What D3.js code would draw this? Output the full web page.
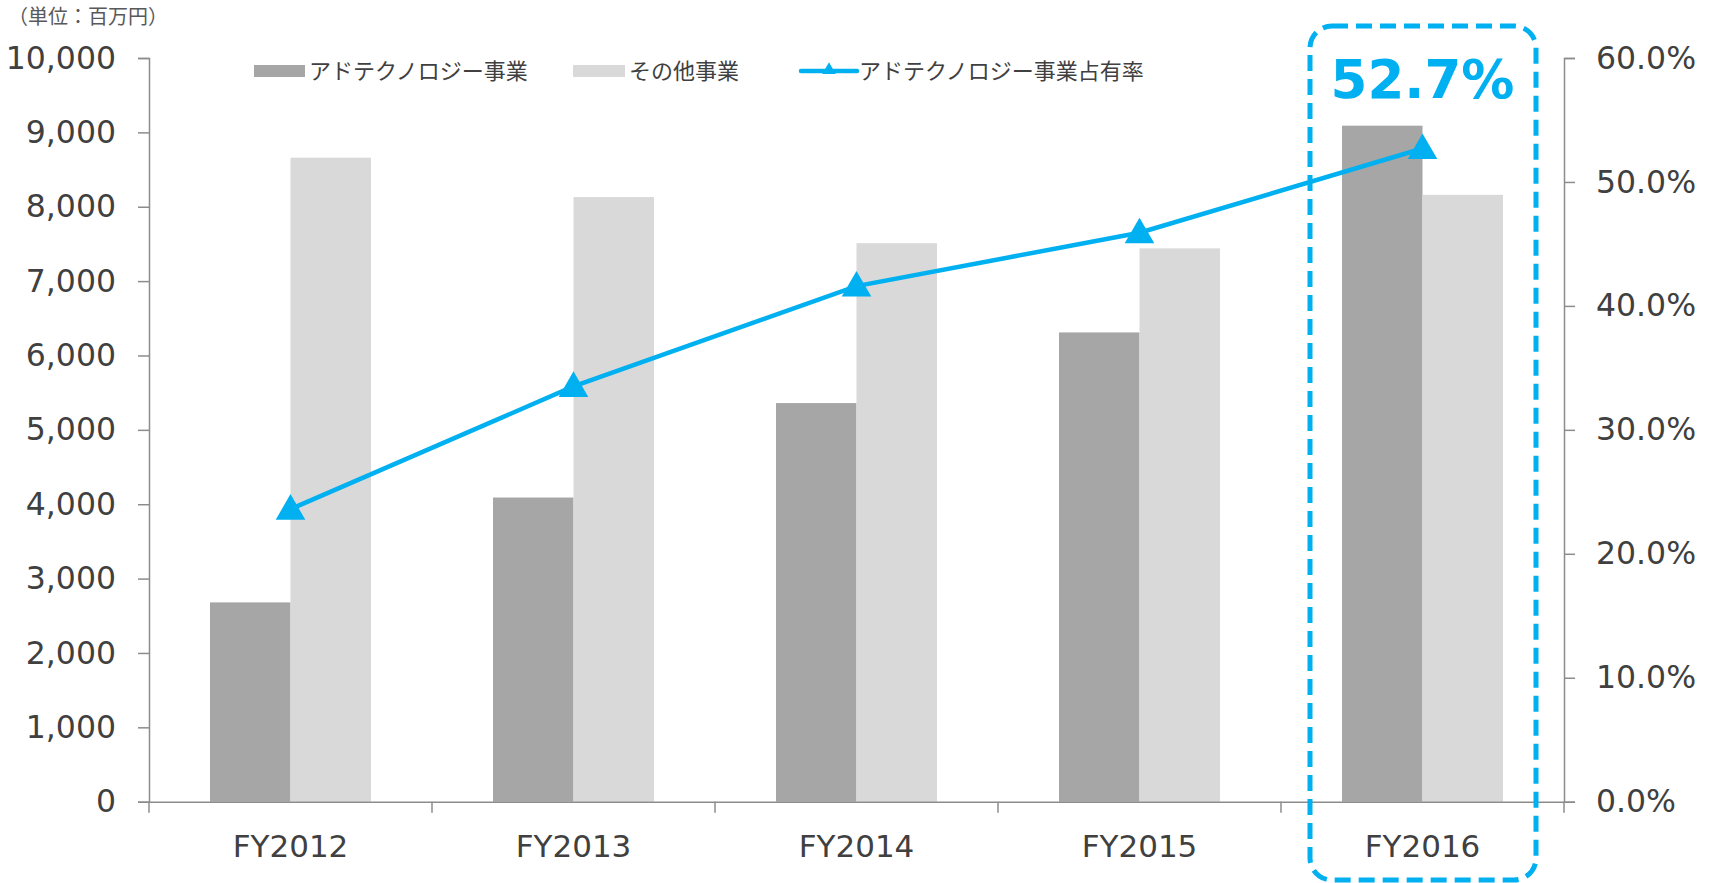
<!DOCTYPE html>
<html>
<head>
<meta charset="utf-8">
<script src="https://cdn.jsdelivr.net/npm/d3@7"></script>
<style>
  body { margin: 0; background: #fff; }
  svg { display: block; }
</style>
</head>
<body>
<div id="chart"></div>
<script>
// data
var years = ["FY2012", "FY2013", "FY2014", "FY2015", "FY2016"];
var adtech = [2680, 4090, 5360, 6310, 9090];
var other = [8660, 8130, 7510, 7440, 8160];
var share = [23.6, 33.5, 41.6, 45.9, 52.7];
var leftTicks = [0, 1000, 2000, 3000, 4000, 5000, 6000, 7000, 8000, 9000, 10000];
var rightTicks = [0, 10, 20, 30, 40, 50, 60];
var seriesNames = ["アドテクノロジー事業", "その他事業", "アドテクノロジー事業占有率"];

var width = 1717, height = 883;
var margin = {top: 58, right: 153, bottom: 81.3, left: 149};
var numFont = "'DejaVu Sans', Verdana, sans-serif";
var jpFont = "'Noto Sans CJK JP', sans-serif";
var blue = "#00B0F0";
var axisColor = "#8c8c8c";
var textColor = "#404040";

var svg = d3.select("#chart").append("svg")
  .attr("width", width)
  .attr("height", height);

var x0 = d3.scaleBand()
  .domain(years)
  .range([margin.left, width - margin.right])
  .padding(0);

var x1 = d3.scaleBand()
  .domain(["adtech", "other"])
  .range([0, x0.bandwidth()])
  .paddingInner(0)
  .paddingOuter(0.758);

var y = d3.scaleLinear()
  .domain([0, 10000])
  .range([height - margin.bottom, margin.top]);

var y2 = d3.scaleLinear()
  .domain([0, 60])
  .range([height - margin.bottom, margin.top]);

// bars
var rows = years.map(function(d, i) {
  return {year: d, adtech: adtech[i], other: other[i]};
});

var groups = svg.append("g").selectAll("g")
  .data(rows)
  .join("g")
  .attr("transform", d => `translate(${x0(d.year)},0)`);

groups.append("rect")
  .attr("x", x1("adtech"))
  .attr("y", d => y(d.adtech))
  .attr("width", x1.bandwidth())
  .attr("height", d => y(0) - y(d.adtech))
  .attr("fill", "#A6A6A6");

groups.append("rect")
  .attr("x", x1("other"))
  .attr("y", d => y(d.other))
  .attr("width", x1.bandwidth())
  .attr("height", d => y(0) - y(d.other))
  .attr("fill", "#D9D9D9");

// axes
function styleAxis(g) {
  g.selectAll(".domain").attr("stroke", axisColor).attr("stroke-width", 1.5);
  g.selectAll(".tick line").attr("stroke", axisColor).attr("stroke-width", 1.5);
  g.selectAll("text").attr("fill", textColor);
}

svg.append("g")
  .attr("transform", `translate(${margin.left},0)`)
  .call(d3.axisLeft(y).tickValues(leftTicks).tickSize(11).tickPadding(22)
    .tickFormat(d3.format(",")))
  .attr("font-family", numFont)
  .attr("font-size", "31.5px")
  .call(styleAxis);

svg.append("g")
  .attr("transform", `translate(${width - margin.right},0)`)
  .call(d3.axisRight(y2).tickValues(rightTicks).tickSize(11).tickPadding(21)
    .tickFormat(d => d.toFixed(1) + "%"))
  .attr("font-family", numFont)
  .attr("font-size", "31.5px")
  .call(styleAxis);

var xAxis = svg.append("g")
  .attr("transform", `translate(0,${y(0)})`)
  .call(d3.axisBottom(x0).tickSize(0).tickPadding(33))
  .attr("font-family", numFont)
  .attr("font-size", "31px")
  .call(styleAxis);

// category boundary ticks
var bounds = years.map(d => x0(d)).concat([x0.range()[1]]);
xAxis.selectAll(".bound")
  .data(bounds)
  .join("line")
  .attr("class", "bound")
  .attr("x1", d => d).attr("x2", d => d)
  .attr("y1", 0).attr("y2", 11)
  .attr("stroke", axisColor)
  .attr("stroke-width", 1.5);

// share line
var cx = d => x0(d) + x0.bandwidth() / 2;
var pts = years.map((d, i) => [cx(d), y2(share[i])]);

svg.append("path")
  .attr("d", d3.line()(pts))
  .attr("fill", "none")
  .attr("stroke", blue)
  .attr("stroke-width", 4.5);

svg.append("g").selectAll("path")
  .data(pts)
  .join("path")
  .attr("transform", d => `translate(${d[0]},${d[1] + 2})`)
  .attr("d", d3.symbol().type(d3.symbolTriangle).size(380))
  .attr("fill", blue);

// highlight box on the last year
var last = years[years.length - 1];
var bx = x0(last) + 29, bw = x0.bandwidth() - 57;
svg.append("rect")
  .attr("x", bx).attr("y", 26)
  .attr("width", bw).attr("height", 854)
  .attr("rx", 22).attr("ry", 22)
  .attr("fill", "none")
  .attr("stroke", blue)
  .attr("stroke-width", 5)
  .attr("stroke-dasharray", "16,8");

svg.append("text")
  .attr("x", cx(last))
  .attr("y", 98)
  .attr("text-anchor", "middle")
  .attr("font-family", numFont)
  .attr("font-weight", "bold")
  .attr("font-size", "53px")
  .attr("fill", blue)
  .text(share[share.length - 1].toFixed(1) + "%");

// unit label
svg.append("text")
  .attr("x", 8)
  .attr("y", 24)
  .attr("font-family", jpFont)
  .attr("font-size", "20px")
  .attr("fill", "#595959")
  .text("（単位：百万円）");

// legend
var legend = svg.append("g").attr("font-family", jpFont).attr("font-size", "22px").attr("fill", textColor);

legend.append("rect").attr("x", 254).attr("y", 65).attr("width", 51).attr("height", 12).attr("fill", "#A6A6A6");
legend.append("text").attr("x", 309).attr("y", 79).text(seriesNames[0]);

legend.append("rect").attr("x", 573).attr("y", 65).attr("width", 52).attr("height", 12).attr("fill", "#D9D9D9");
legend.append("text").attr("x", 629).attr("y", 79).text(seriesNames[1]);

legend.append("line").attr("x1", 801).attr("x2", 857).attr("y1", 71).attr("y2", 71)
  .attr("stroke", blue).attr("stroke-width", 4.5).attr("stroke-linecap", "round");
legend.append("path")
  .attr("transform", "translate(829,70)")
  .attr("d", d3.symbol().type(d3.symbolTriangle).size(80))
  .attr("fill", blue);
legend.append("text").attr("x", 859).attr("y", 79).text(seriesNames[2]);
</script>
</body>
</html>
